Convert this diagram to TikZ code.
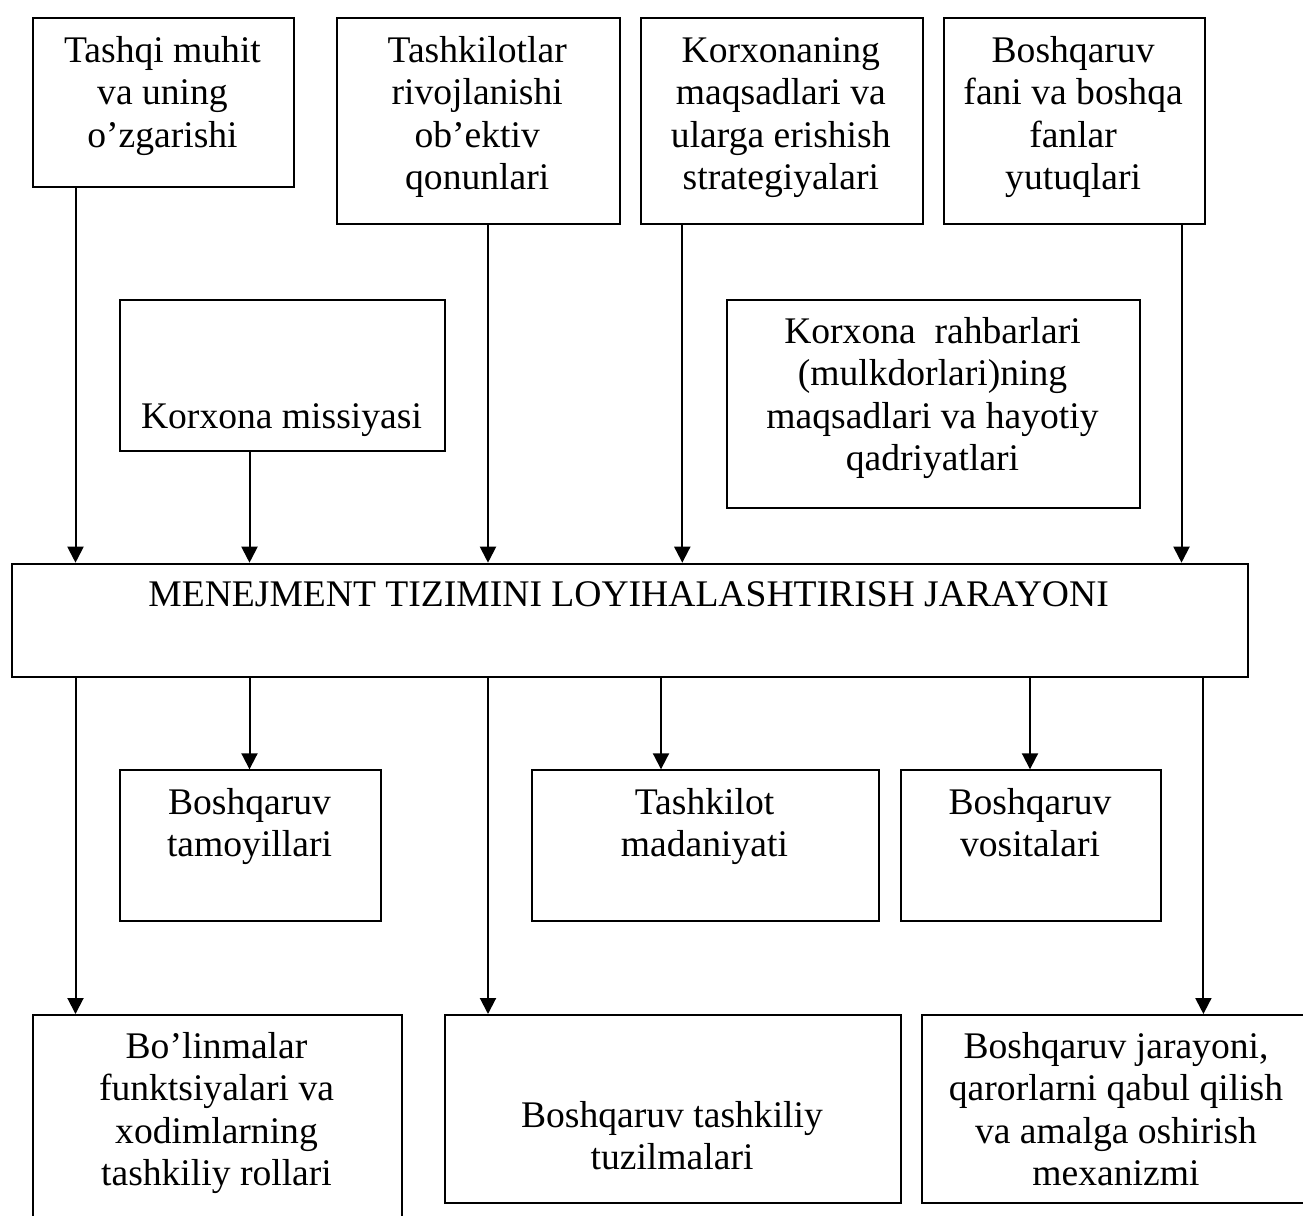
\documentclass[tikz,border=0pt]{standalone}
\usepackage{fontspec}
\setmainfont{Liberation Serif}
\usetikzlibrary{arrows.meta}
\begin{document}
\begin{tikzpicture}[x=1pt,y=-1pt,
  box/.style={draw, rectangle, line width=2pt, inner sep=0pt, anchor=north west},
  lbl/.style={align=center, inner sep=0pt, font={\fontsize{37.6}{42.5}\selectfont}},
  arr/.style={line width=2pt, -{Triangle[width=16pt,length=16pt]}}]
\useasboundingbox (0,0) rectangle (1303,1215);
\fill[white] (0,0) rectangle (1303,1215);

% top row of sources
\node[box, minimum width=260.2pt, minimum height=169pt] (b1) at (32.4,16.7) {};
\node[box, minimum width=282.9pt, minimum height=206.6pt] (b2) at (335.8,16.7) {};
\node[box, minimum width=281.6pt, minimum height=206.6pt] (b3) at (640,16.7) {};
\node[box, minimum width=260.9pt, minimum height=206.6pt] (b4) at (942.7,16.7) {};
\node[lbl] (t1) at (162.5,96) {\strut Tashqi muhit\\\strut va uning\\\strut o’zgarishi};
\node[lbl] (t2) at (477.2,117.25) {\strut Tashkilotlar\\\strut rivojlanishi\\\strut ob’ektiv\\\strut qonunlari};
\node[lbl] (t3) at (780.8,117.25) {\strut Korxonaning\\\strut maqsadlari va\\\strut ularga erishish\\\strut strategiyalari};
\node[lbl] (t4) at (1073.1,117.25) {\strut Boshqaruv\\\strut fani va boshqa\\\strut fanlar\\\strut yutuqlari};

% second row
\node[box, minimum width=325pt, minimum height=151pt] (miss) at (119,299) {};
\node[lbl] (tm) at (281.5,419.5) {\strut Korxona missiyasi};
\node[box, minimum width=413pt, minimum height=208pt] (rahb) at (726,299) {};
\node[lbl] (tr) at (932.5,398.25) {\strut Korxona~~rahbarlari\\\strut (mulkdorlari)ning\\\strut maqsadlari va hayotiy\\\strut qadriyatlari};

% central process
\node[box, minimum width=1236.2pt, minimum height=112.8pt] (main) at (10.5,562.7) {};
\node[lbl] (tmain) at (628.6,598.2) {\strut MENEJMENT TIZIMINI LOYIHALASHTIRISH JARAYONI};

% third row
\node[box, minimum width=261pt, minimum height=151pt] (tam) at (119,769.3) {};
\node[lbl] (ttam) at (249.5,826.75) {\strut Boshqaruv\\\strut tamoyillari};
\node[box, minimum width=347pt, minimum height=151pt] (mad) at (531,769.3) {};
\node[lbl] (tmad) at (704.5,826.75) {\strut Tashkilot\\\strut madaniyati};
\node[box, minimum width=260pt, minimum height=151pt] (vos) at (900,769.3) {};
\node[lbl] (tvos) at (1030,826.75) {\strut Boshqaruv\\\strut vositalari};

% bottom row
\node[box, minimum width=368.3pt, minimum height=216pt] (bol) at (32.4,1014) {};
\node[lbl] (tbol) at (216.5,1113.25) {\strut Bo’linmalar\\\strut funktsiyalari va\\\strut xodimlarning\\\strut tashkiliy rollari};
\node[box, minimum width=456pt, minimum height=188pt] (tuz) at (444,1014) {};
\node[lbl] (ttuz) at (672,1139.75) {\strut Boshqaruv tashkiliy\\\strut tuzilmalari};
\node[box, minimum width=390pt, minimum height=188pt] (jar) at (921,1014) {};
\node[lbl] (tjar) at (1116,1113.25) {\strut Boshqaruv jarayoni,\\\strut qarorlarni qabul qilish\\\strut va amalga oshirish\\\strut mexanizmi};

% connector columns
\coordinate (k1) at (75.5,0);
\coordinate (k2) at (249.5,0);
\coordinate (k3) at (488,0);
\coordinate (k4) at (682.3,0);
\coordinate (k5) at (1181.5,0);
\coordinate (k6) at (661,0);
\coordinate (k7) at (1030,0);
\coordinate (k8) at (1203.4,0);

% inputs
\draw[arr] (b1.south -| k1) -- (main.north -| k1);
\draw[arr] (miss.south -| k2) -- (main.north -| k2);
\draw[arr] (b2.south -| k3) -- (main.north -| k3);
\draw[arr] (b3.south -| k4) -- (main.north -| k4);
\draw[arr] (b4.south -| k5) -- (main.north -| k5);

% outputs
\draw[arr] (main.south -| k1) -- (bol.north -| k1);
\draw[arr] (main.south -| k2) -- (tam.north -| k2);
\draw[arr] (main.south -| k3) -- (tuz.north -| k3);
\draw[arr] (main.south -| k6) -- (mad.north -| k6);
\draw[arr] (main.south -| k7) -- (vos.north -| k7);
\draw[arr] (main.south -| k8) -- (jar.north -| k8);
\end{tikzpicture}
\end{document}
